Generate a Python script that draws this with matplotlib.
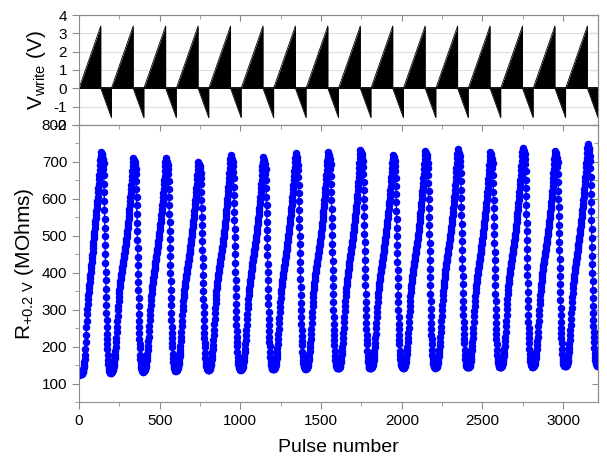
import matplotlib
matplotlib.use('Agg')
import matplotlib.pyplot as plt
import numpy as np
from matplotlib.ticker import MultipleLocator

plt.rcParams['font.family'] = ['Liberation Sans', 'DejaVu Sans']
plt.rcParams['mathtext.default'] = 'regular'
plt.rcParams['axes.unicode_minus'] = False

# ---- data ----
n_cycles = 16
period = 201  # pulses per cycle

# one cycle of the write voltage (vertices)
ramp_t = [0, 135, 135, 201, 201]
ramp_v = [0, 3.4, 0, -1.6, 0]

# reference cycle shape of the resistance (MOhm), pulse offset inside a cycle
cycle_t = list(range(0, 156, 2)) + list(range(155, 177)) + list(range(178, 200, 2))
cycle_r = [137, 137, 138, 139, 141, 144, 148, 153, 159, 166,
           174, 183, 193, 204, 216, 229, 243, 258, 273, 288,
           302, 315, 327, 338, 348, 357, 365, 373, 380, 387,
           394, 400, 406, 412, 418, 424, 430, 436, 442, 448,
           454, 460, 466, 472, 479, 486, 493, 500, 508, 516,
           524, 532, 540, 548, 557, 566, 575, 585, 595, 606,
           617, 628, 640, 652, 664, 677, 690, 701, 712, 698,
           706, 684, 702, 676, 694, 668, 682, 650,
           628, 606, 584, 561, 538, 515, 492, 469, 446, 423,
           400, 378, 356, 334, 313, 293, 274, 256, 240, 225, 212, 200,
           183, 170, 160, 153, 148, 144, 141, 139, 138, 137, 137]
ref_lo, ref_hi = 137, 712

# first cycle starts from the pristine state
first_t = list(range(0, 100, 2))
first_r = [124, 124, 125, 125, 125, 126, 126, 127, 127, 128,
           129, 131, 133, 136, 140, 145, 151, 158, 166, 178,
           194, 212, 232, 252, 270, 287, 302, 316, 328, 339,
           349, 358, 367, 376, 385, 394, 403, 412, 421, 430,
           439, 448, 457, 466, 475, 484, 493, 502, 511, 520]

cycle_hi = [728, 711, 711, 700, 718, 712, 723, 726, 732, 720, 729, 734, 727, 739, 730, 748]
cycle_lo = [128, 132, 135, 137, 138, 139, 140, 141, 141, 143, 143, 144, 144, 145, 147, 148]

# ---- build series ----
vx, vy = [], []
for k in range(n_cycles):
    vx += [period * k + t for t in ramp_t]
    vy += ramp_v

px, pr = [], []
tmpl = np.array(cycle_r, dtype=float)
for k in range(n_cycles):
    r = cycle_lo[k] + (tmpl - ref_lo) / (ref_hi - ref_lo) * (cycle_hi[k] - cycle_lo[k])
    if k == 0:
        keep = [i for i, t in enumerate(cycle_t) if t >= 100]
        ts = first_t + [cycle_t[i] for i in keep]
        rs = first_r + [r[i] for i in keep]
    else:
        ts = cycle_t
        rs = list(r)
    px += [period * k + t for t in ts]
    pr += rs

# ---- figure ----
fig = plt.figure(figsize=(6.07, 4.66), dpi=100)
ax1 = fig.add_axes([0.1301, 0.7318, 0.8551, 0.236])
ax2 = fig.add_axes([0.1301, 0.1373, 0.8551, 0.5945], sharex=ax1)

spine_c = '#8c8c8c'

# top panel: write voltage
ax1.fill_between(vx, vy, 0, color='black', lw=0)
ax1.plot(vx, vy, color='black', lw=0.6)
ax1.axhline(0, color='black', lw=1.3)
ax1.set_ylim(-2, 4)
ax1.yaxis.set_major_locator(MultipleLocator(1))
ax1.yaxis.grid(True, color='#dedede', lw=0.8)
ax1.set_axisbelow(True)
ax1.set_ylabel(r'V$_{write}$ (V)', fontsize=15)
ax1.tick_params(axis='x', which='both', bottom=False, labelbottom=False)

# bottom panel: resistance
ax2.plot(px, pr, color='#0000ff', marker='o', markersize=4.4, lw=1.0)
ax2.set_xlim(0, 3216)
ax2.set_ylim(50, 800)
ax2.xaxis.set_major_locator(MultipleLocator(500))
ax2.xaxis.set_minor_locator(MultipleLocator(250))
ax2.yaxis.set_major_locator(MultipleLocator(100))
ax2.yaxis.set_minor_locator(MultipleLocator(50))
ax2.set_xlabel('Pulse number', fontsize=14, labelpad=8)
ax2.set_ylabel(r'R$_{+0.2\ V}$ (MOhms)', fontsize=15)

for ax in (ax1, ax2):
    for s in ax.spines.values():
        s.set_color(spine_c)
    ax.tick_params(which='major', direction='out', length=5, color=spine_c, labelsize=11)
    ax.tick_params(which='minor', direction='out', length=3, color=spine_c)
    # mirrored ticks pointing inward
    sy = ax.secondary_yaxis('right')
    sy.yaxis.set_major_locator(MultipleLocator(100 if ax is ax2 else 1))
    if ax is ax2:
        sy.yaxis.set_minor_locator(MultipleLocator(50))
    sy.tick_params(which='both', direction='in', labelright=False, color=spine_c, length=4)
    sy.tick_params(which='minor', length=3)
    sy.spines['right'].set_color(spine_c)
    sx = ax.secondary_xaxis('top')
    sx.xaxis.set_major_locator(MultipleLocator(500))
    sx.xaxis.set_minor_locator(MultipleLocator(250))
    sx.tick_params(which='both', direction='in', labeltop=False, color=spine_c, length=4)
    sx.tick_params(which='minor', length=3)
    sx.spines['top'].set_color(spine_c)

fig.savefig('out.png', dpi=100)
